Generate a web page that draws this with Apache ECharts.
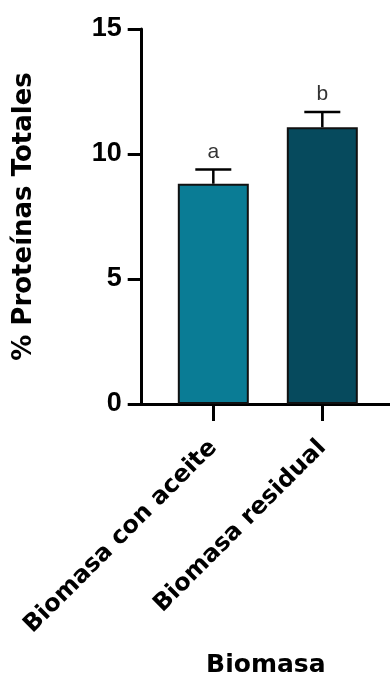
<!DOCTYPE html>
<html>
<head>
<meta charset="utf-8">
<script src="https://cdn.jsdelivr.net/npm/echarts@6/dist/echarts.min.js"></script>
<style>html,body{margin:0;padding:0;background:#fff}#c{width:390px;height:681px}</style>
</head>
<body>
<div id="c"></div>
<script>
var categories = ['Biomasa con aceite', 'Biomasa residual'];
var means = [8.81, 11.07];
var errors = [0.57, 0.61];
var letters = ['a', 'b'];
var barColors = ['#0A7C95', '#064A5D'];
var yTicks = [0, 5, 10, 15];

var chart = echarts.init(document.getElementById('c'), null, {renderer: 'canvas'});
var positions = categories.map(function (c, i) { return i + 1; });

var barData = means.map(function (m, i) {
  return { value: [positions[i], m], itemStyle: { color: barColors[i] } };
});
var errData = means.map(function (m, i) { return [positions[i], m, errors[i]]; });

var titleFont = '"DejaVu Sans", sans-serif';
var option = {
  animation: false,
  backgroundColor: '#fff',
  grid: { left: 141.7, right: 0, top: 29, bottom: 277, containLabel: false, outerBoundsMode: 'none' },
  xAxis: {
    type: 'value',
    min: 0.343,
    max: 2.621,
    name: 'Biomasa',
    nameLocation: 'middle',
    nameGap: 249,
    nameTextStyle: { fontFamily: titleFont, fontWeight: 'bold', fontSize: 25, color: '#000' },
    axisLine: { show: true, lineStyle: { color: '#000', width: 3 } },
    axisTick: { show: true, customValues: positions, length: 17, lineStyle: { color: '#000', width: 3 } },
    axisLabel: {
      customValues: positions,
      rotate: 45,
      margin: 40,
      fontFamily: titleFont, fontWeight: 'bold', fontSize: 24, color: '#000',
      formatter: function (v) { return categories[Math.round(v) - 1] || ''; }
    },
    splitLine: { show: false }
  },
  yAxis: {
    type: 'value',
    min: 0,
    max: 15,
    interval: 5,
    name: '% Proteínas Totales',
    nameLocation: 'middle',
    nameGap: 104,
    nameTextStyle: { fontFamily: titleFont, fontWeight: 'bold', fontSize: 26, color: '#000' },
    axisLine: { show: true, lineStyle: { color: '#000', width: 3 } },
    axisTick: { show: true, length: 14, lineStyle: { color: '#000', width: 3 } },
    axisLabel: {
      margin: 20,
      fontFamily: '"Liberation Sans", Arial, sans-serif', fontWeight: 'bold', fontSize: 27, color: '#000',
      formatter: function (v) { return yTicks.indexOf(v) >= 0 ? String(v) : ''; }
    },
    splitLine: { show: false }
  },
  series: [
    {
      type: 'bar',
      data: barData,
      barWidth: 71,
      itemStyle: { borderColor: '#111', borderWidth: 2 },
      z: 2
    },
    {
      type: 'custom',
      data: errData,
      z: 3,
      renderItem: function (params, api) {
        var x = api.value(0), m = api.value(1), e = api.value(2);
        var base = api.coord([x, m]);
        var top = api.coord([x, m + e]);
        var half = 18;
        return {
          type: 'group',
          children: [
            { type: 'line', shape: { x1: base[0], y1: base[1], x2: top[0], y2: top[1] }, style: { stroke: '#000', lineWidth: 2.5 } },
            { type: 'line', shape: { x1: top[0] - half, y1: top[1], x2: top[0] + half, y2: top[1] }, style: { stroke: '#000', lineWidth: 2.5 } },
            { type: 'text', x: top[0], y: top[1] - 7, style: { text: letters[params.dataIndex], align: 'center', verticalAlign: 'bottom', font: '21px "Liberation Sans", Arial, sans-serif', fill: '#333' } }
          ]
        };
      }
    }
  ]
};
chart.setOption(option);
</script>
</body>
</html>
